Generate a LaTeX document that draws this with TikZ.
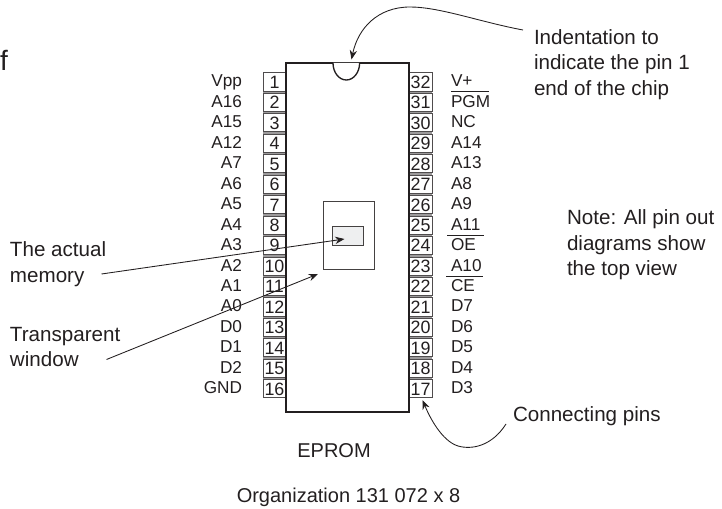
\documentclass[tikz,border=0pt]{standalone}
\usepackage{fontspec}
\setmainfont{Liberation Sans}
\usetikzlibrary{arrows.meta}
\definecolor{ink}{HTML}{231F20}
\definecolor{memfill}{HTML}{EEEFF0}
\tikzset{
  x=0.75pt,y=-0.75pt,
  every node/.style={text=ink,inner sep=0pt,outer sep=0pt},
  note/.style={font=\fontsize{15.45}{18.75}\selectfont,anchor=base west},
  centrenote/.style={font=\fontsize{15}{18.75}\selectfont,anchor=base},
  pinname/.style={font=\fontsize{12.9}{15}\selectfont,anchor=base},
  pinbox/.style={draw=ink!80,line width=0.7pt,fill=white,minimum width=17.2pt,minimum height=13.6pt,
    font=\fontsize{13.4}{15}\selectfont,text height=9.6pt,text depth=0pt,anchor=center},
  chipbody/.style={draw=ink,line width=1.5pt},
  notch/.style={draw=ink,line width=1pt,fill=white},
  winbox/.style={draw=ink!85,line width=0.6pt},
  bar/.style={draw=ink,line width=0.6pt},
  callout/.style={draw=ink,line width=0.65pt,-{Stealth[length=7pt,width=5.5pt]}}
}
\begin{document}
\begin{tikzpicture}
\useasboundingbox (0,0) rectangle (722,509);
% gap shading between pins
\fill[ink!45] (263,74) rectangle (286,397);
\fill[ink!45] (409,74) rectangle (432,397);
% left pins
\foreach \n/\lab [count=\i from 0] in {1/Vpp,2/A16,3/A15,4/A12,5/A7,6/A6,7/A5,8/A4,9/A3,10/A2,11/A1,12/A0,13/D0,14/D1,15/D2,16/GND}{
  \pgfmathsetmacro{\yy}{82+20.45*\i}
  \node[pinbox] (p\n) at (274.5,\yy) {\n};
  \node[pinname,anchor=base east] (l\n) at (242,\yy+5) {\lab};
}
% right pins
\foreach \n/\lab [count=\i from 0] in {32/V+,31/PGM,30/NC,29/A14,28/A13,27/A8,26/A9,25/A11,24/OE,23/A10,22/CE,21/D7,20/D6,19/D5,18/D4,17/D3}{
  \pgfmathsetmacro{\yy}{82+20.45*\i}
  \node[pinbox] (p\n) at (420.5,\yy) {\n};
  \node[pinname,anchor=base west] (l\n) at (451,\yy+5) {\lab};
}
% chip body
\draw[chipbody,fill=white] (286,63) rectangle (408.5,412);
\draw[notch] (333,63) arc[start angle=180,end angle=0,x radius=13.3,y radius=17];
% window
\node[winbox,minimum width=38.5pt,minimum height=51pt] (win) at (349,235) {};
\node[winbox,fill=memfill,minimum width=22.7pt,minimum height=14.8pt] (mem) at (348,236) {};
% bars over active-low names
\draw[bar] (451,91) -- (489,91);
\draw[bar] (447,235) -- (484,235);
\draw[bar] (446,276) -- (483,276);
% texts
\node[note] (t1) at (534,45) {Indentation to};
\node[note] (t2) at (534,70) {indicate the pin 1};
\node[note] (t3) at (534,96) {end of the chip};
\node[note] (n1) at (567,225) {Note: All pin out};
\node[note] (n2) at (567,251) {diagrams show};
\node[note] (n3) at (567,276) {the top view};
\node[note] (c1) at (513,422) {Connecting pins};
\node[note] (m1) at (10,257) {The actual};
\node[note] (m2) at (10,283) {memory};
\node[note] (w1) at (10,342) {Transparent};
\node[note] (w2) at (10,367) {window};
\node[centrenote] (e) at (334,458) {EPROM};
\node[centrenote] (o) at (348.5,503) {Organization 131 072 x 8};
\node[anchor=base west,font=\fontsize{21}{24}\selectfont] (frag) at (0,71) {f};
% callouts
\coordinate (a1s) at (523,30);
\coordinate (a1e) at (351.5,59.5);
\coordinate (a2s) at (506,424);
\coordinate (a2e) at (422.5,400);
\coordinate (a3s) at (101.5,274);
\coordinate (a3e) at (344.5,239);
\coordinate (a4s) at (106.5,359.5);
\coordinate (a4e) at (318,274);
\draw[callout] (a1s) .. controls (480,22) and (440,7) .. (410,7) .. controls (378,7) and (358,28) .. (a1e);
\draw[callout] (a2s) .. controls (492,446) and (472,450) .. (458,446) .. controls (442,441) and (430,418) .. (a2e);
\draw[callout] (a3s) -- (a3e);
\draw[callout] (a4s) -- (a4e);
\end{tikzpicture}
\end{document}
